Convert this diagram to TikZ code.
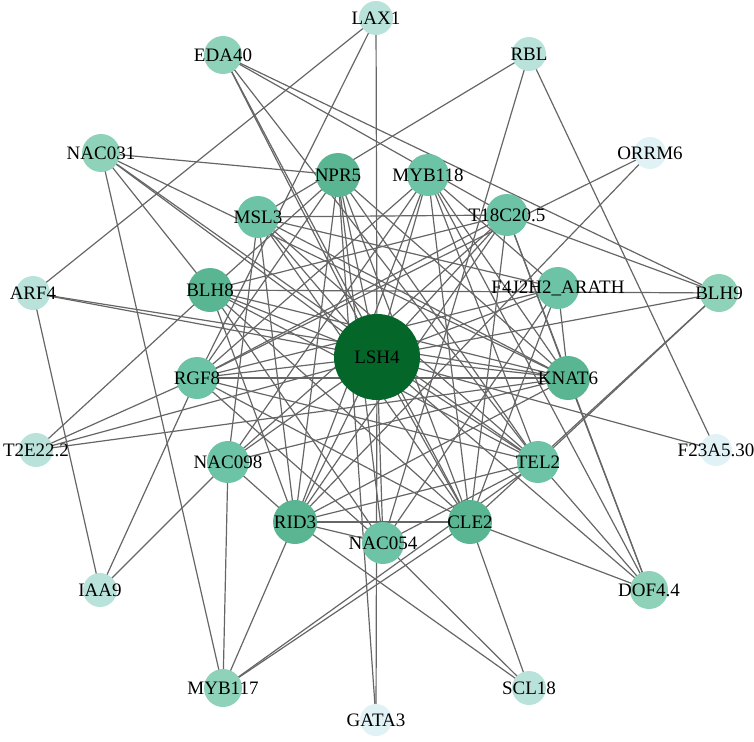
\documentclass[tikz,border=0pt]{standalone}
\usepackage{fontspec}
\setmainfont{Liberation Serif}
\usetikzlibrary{backgrounds}
\definecolor{cHub}{HTML}{05662A}
\definecolor{cA}{HTML}{5AB592}
\definecolor{cB}{HTML}{6CC3A5}
\definecolor{cC}{HTML}{8DD2B9}
\definecolor{cD}{HTML}{B9E3DA}
\definecolor{cE}{HTML}{E1F2F6}
\definecolor{edgec}{HTML}{666666}
\tikzset{
 gene/.style={circle,inner sep=0pt,minimum size=40pt,label={[font=\fontsize{19}{19}\selectfont,text=black,inner sep=0pt]center:#1}},
 hub/.style={gene=#1,fill=cHub,minimum size=86pt},
 ga/.style={gene=#1,fill=cA,minimum size=44pt},
 gb/.style={gene=#1,fill=cB,minimum size=42pt},
 gc/.style={gene=#1,fill=cC,minimum size=38pt},
 gd/.style={gene=#1,fill=cD,minimum size=34pt},
 ge/.style={gene=#1,fill=cE,minimum size=32pt},
 link/.style={draw=edgec,line width=1.2pt}
}
\begin{document}
\begin{tikzpicture}[x=1pt,y=-1pt]
\useasboundingbox (0,0) rectangle (754,741);
\node[hub=LSH4] (LSH4) at (377,357) {};
\node[ga=BLH8] (BLH8) at (210,290) {};
\node[gb=RGF8] (RGF8) at (197,378) {};
\node[gb=NAC098] (NAC098) at (228,462) {};
\node[ga=RID3] (RID3) at (295,522) {};
\node[gb=NAC054] (NAC054) at (383,543) {};
\node[ga=CLE2] (CLE2) at (470,522) {};
\node[gb=TEL2] (TEL2) at (538,462) {};
\node[ga=KNAT6] (KNAT6) at (568,378) {};
\node[gb={F4J2H2\_ARATH}] (F4J) at (558,288) {};
\node[gb=T18C20.5] (T18) at (507,215) {};
\node[gb=MYB118] (MYB118) at (428,175) {};
\node[ga=NPR5] (NPR5) at (338,175) {};
\node[gb=MSL3] (MSL3) at (258,217) {};
\node[gd=LAX1] (LAX1) at (376,18) {};
\node[gc=EDA40] (EDA40) at (223,55) {};
\node[gd=RBL] (RBL) at (529,54) {};
\node[ge=ORRM6] (ORRM6) at (650,153) {};
\node[gc=NAC031] (NAC031) at (101,153) {};
\node[gd=ARF4] (ARF4) at (33,293) {};
\node[gc=BLH9] (BLH9) at (719,293) {};
\node[gd=T2E22.2] (T2E) at (36,450) {};
\node[ge=F23A5.30] (F23) at (716,450) {};
\node[gd=IAA9] (IAA9) at (100,590) {};
\node[gc=DOF4.4] (DOF) at (649,590) {};
\node[gc=MYB117] (MYB117) at (223,688) {};
\node[gd=SCL18] (SCL18) at (529,688) {};
\node[ge=GATA3] (GATA3) at (376,720) {};
\begin{scope}[on background layer]
\foreach \a/\b in {
LAX1/ARF4,LAX1/LSH4,LAX1/RGF8,
EDA40/LSH4,EDA40/CLE2,EDA40/TEL2,EDA40/T18,EDA40/BLH9,
NAC031/NPR5,NAC031/KNAT6,NAC031/BLH8,NAC031/LSH4,NAC031/TEL2,NAC031/MYB117,
ARF4/IAA9,ARF4/LSH4,ARF4/KNAT6,
T2E/BLH8,T2E/RGF8,T2E/LSH4,T2E/KNAT6,
IAA9/RGF8,IAA9/NAC098,
MYB117/NAC098,MYB117/RID3,MYB117/CLE2,MYB117/TEL2,
GATA3/LSH4,GATA3/NPR5,
SCL18/RID3,SCL18/NAC054,SCL18/CLE2,
DOF/LSH4,DOF/MYB118,DOF/T18,DOF/KNAT6,DOF/TEL2,DOF/CLE2,
F23/RBL,F23/LSH4,
BLH9/T18,BLH9/BLH8,BLH9/LSH4,BLH9/TEL2,BLH9/CLE2,
ORRM6/RGF8,ORRM6/RID3,
RBL/MSL3,RBL/NAC054,
NPR5/LSH4,NPR5/KNAT6,NPR5/TEL2,NPR5/CLE2,NPR5/NAC054,NPR5/RID3,NPR5/RGF8,NPR5/BLH8,
MSL3/T18,MSL3/LSH4,MSL3/KNAT6,MSL3/TEL2,MSL3/CLE2,MSL3/RID3,MSL3/NAC098,MSL3/F4J,
MYB118/RGF8,MYB118/NAC098,MYB118/RID3,MYB118/LSH4,MYB118/CLE2,MYB118/TEL2,MYB118/KNAT6,MYB118/F4J,
T18/RGF8,T18/NAC098,T18/RID3,T18/LSH4,T18/CLE2,T18/KNAT6,T18/BLH8,
BLH8/LSH4,BLH8/KNAT6,BLH8/TEL2,BLH8/CLE2,BLH8/NAC054,BLH8/RID3,
RGF8/LSH4,RGF8/KNAT6,RGF8/TEL2,RGF8/CLE2,RGF8/F4J,RGF8/NAC054,
NAC098/LSH4,NAC098/KNAT6,NAC098/RID3,
RID3/LSH4,RID3/CLE2,RID3/TEL2,RID3/KNAT6,RID3/NAC054,
NAC054/LSH4,NAC054/TEL2,NAC054/F4J,
CLE2/LSH4,CLE2/F4J,
TEL2/LSH4,KNAT6/LSH4,KNAT6/F4J,F4J/LSH4}
{\draw[link] (\a.center) -- (\b.center);}
\end{scope}
\end{tikzpicture}
\end{document}
